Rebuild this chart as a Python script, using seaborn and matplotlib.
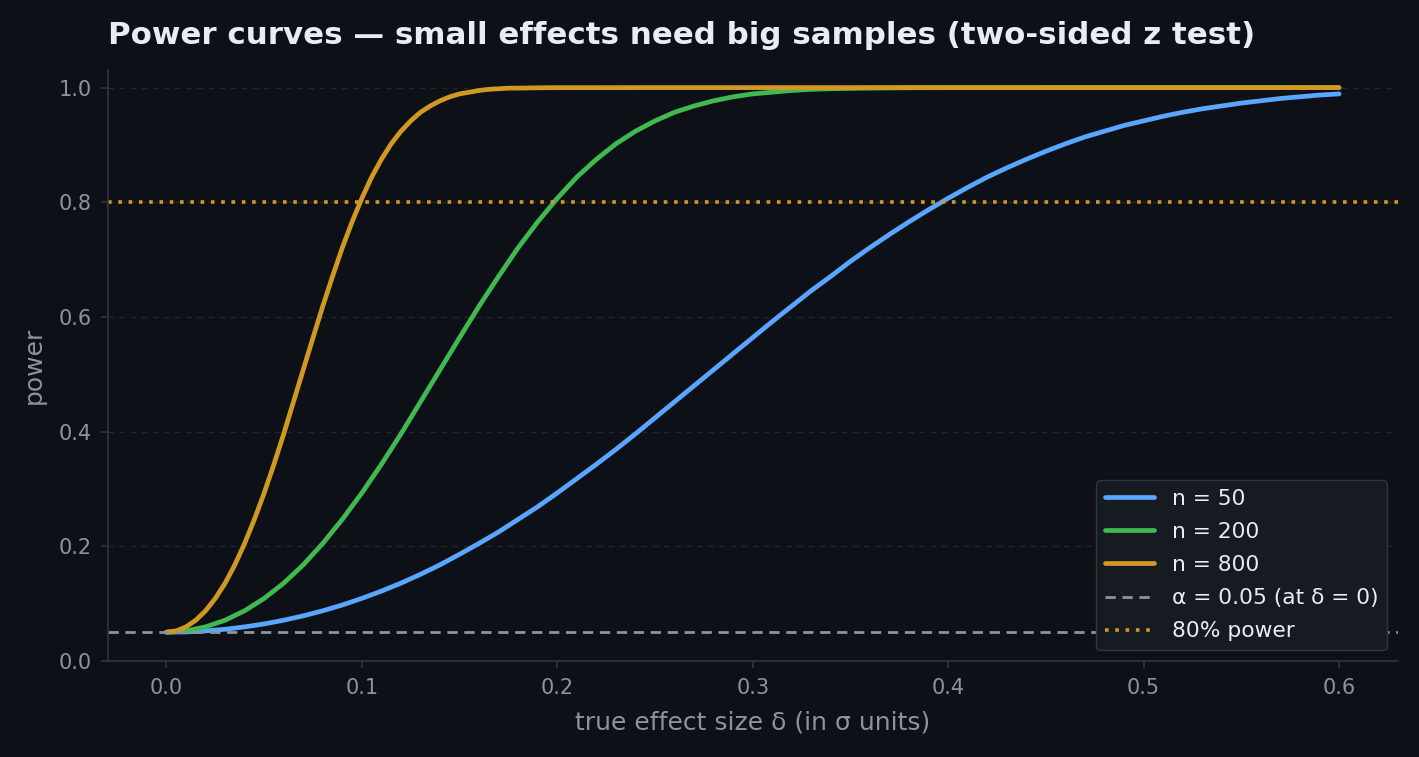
import pandas as pd
import matplotlib.pyplot as plt
import seaborn as sns

# values
delta_50 = [0.00, 0.01, 0.02, 0.03, 0.04, 0.05, 0.06, 0.07, 0.08, 0.09,
            0.10, 0.11, 0.12, 0.13, 0.14, 0.15, 0.16, 0.17, 0.18, 0.19,
            0.20, 0.21, 0.22, 0.23, 0.24, 0.25, 0.26, 0.27, 0.28, 0.29,
            0.30, 0.31, 0.32, 0.33, 0.34, 0.35, 0.36, 0.37, 0.38, 0.39,
            0.40, 0.41, 0.42, 0.43, 0.44, 0.45, 0.46, 0.47, 0.48, 0.49,
            0.50, 0.51, 0.52, 0.53, 0.54, 0.55, 0.56, 0.57, 0.58, 0.59, 0.60]
power_50 = [0.050, 0.0505, 0.0523, 0.0551, 0.0593, 0.0644, 0.0709, 0.0785, 0.0874, 0.0975,
            0.109, 0.1217, 0.1356, 0.151, 0.1676, 0.186, 0.205, 0.225, 0.247, 0.269,
            0.293, 0.318, 0.343, 0.369, 0.396, 0.424, 0.452, 0.480, 0.508, 0.536,
            0.564, 0.592, 0.619, 0.646, 0.671, 0.697, 0.721, 0.744, 0.766, 0.787,
            0.807, 0.826, 0.844, 0.860, 0.875, 0.889, 0.902, 0.914, 0.924, 0.934,
            0.942, 0.950, 0.957, 0.963, 0.968, 0.973, 0.977, 0.981, 0.984, 0.987, 0.989]

delta_200 = [0.00, 0.01, 0.02, 0.03, 0.04, 0.05, 0.06, 0.07, 0.08, 0.09,
             0.10, 0.11, 0.12, 0.13, 0.14, 0.15, 0.16, 0.17, 0.18, 0.19,
             0.20, 0.21, 0.22, 0.23, 0.24, 0.25, 0.26, 0.27, 0.28, 0.29,
             0.30, 0.31, 0.32, 0.33, 0.34, 0.35, 0.36, 0.38, 0.40, 0.45,
             0.50, 0.55, 0.60]
power_200 = [0.050, 0.0523, 0.0593, 0.0709, 0.0874, 0.109, 0.1356, 0.1676, 0.205, 0.247,
             0.293, 0.343, 0.396, 0.452, 0.508, 0.564, 0.619, 0.671, 0.721, 0.766,
             0.807, 0.844, 0.875, 0.902, 0.924, 0.942, 0.957, 0.968, 0.977, 0.984,
             0.989, 0.992, 0.995, 0.997, 0.998, 0.9986, 0.9991, 0.9997, 0.9999, 1.0,
             1.0, 1.0, 1.0]

delta_800 = [0.000, 0.005, 0.010, 0.015, 0.020, 0.025, 0.030, 0.035, 0.040, 0.045,
             0.050, 0.055, 0.060, 0.065, 0.070, 0.075, 0.080, 0.085, 0.090, 0.095,
             0.100, 0.105, 0.110, 0.115, 0.120, 0.125, 0.130, 0.135, 0.140, 0.145,
             0.150, 0.155, 0.160, 0.165, 0.170, 0.175, 0.180, 0.190, 0.200, 0.250,
             0.300, 0.400, 0.500, 0.600]
power_800 = [0.050, 0.0523, 0.0593, 0.0709, 0.0874, 0.109, 0.1356, 0.1676, 0.205, 0.247,
             0.293, 0.343, 0.396, 0.452, 0.508, 0.564, 0.619, 0.671, 0.721, 0.766,
             0.807, 0.844, 0.875, 0.902, 0.924, 0.942, 0.957, 0.968, 0.977, 0.984,
             0.989, 0.992, 0.995, 0.997, 0.998, 0.999, 0.9991, 0.9997, 0.9999, 1.0,
             1.0, 1.0, 1.0, 1.0]

series_labels = ["n = 50", "n = 200", "n = 800"]
series_colors = ["#58a6ff", "#3fb950", "#d29922"]
alpha_level = 0.05
target_power = 0.8

bg = "#0d1117"
muted = "#8b949e"
edge = "#30363d"

df = pd.concat([
    pd.DataFrame({"delta": delta_50, "power": power_50, "series": series_labels[0]}),
    pd.DataFrame({"delta": delta_200, "power": power_200, "series": series_labels[1]}),
    pd.DataFrame({"delta": delta_800, "power": power_800, "series": series_labels[2]}),
], ignore_index=True)

sns.set_theme(style="dark")
plt.rcParams["font.family"] = ["DejaVu Sans"]

fig, ax = plt.subplots(figsize=(14.19, 7.57), dpi=100)
fig.patch.set_facecolor(bg)
ax.set_facecolor(bg)

sns.lineplot(data=df, x="delta", y="power", hue="series", hue_order=series_labels,
             palette=dict(zip(series_labels, series_colors)), linewidth=3.4,
             sort=False, ax=ax)

ax.axhline(alpha_level, color=muted, linestyle=(0, (3.7, 2.4)), linewidth=2,
           label="α = 0.05 (at δ = 0)")
ax.axhline(target_power, color="#d29922", linestyle=(0, (1, 1.85)), linewidth=2.6,
           label="80% power")

ax.set_ylim(0, 1.03)
ax.grid(axis="y", color="#21262d", linestyle=(0, (4, 4)), linewidth=1)
ax.grid(axis="x", visible=False)

for side in ["top", "right"]:
    ax.spines[side].set_visible(False)
for side in ["left", "bottom"]:
    ax.spines[side].set_color(edge)
    ax.spines[side].set_linewidth(1.2)

ax.tick_params(colors=muted, labelsize=15, length=5, width=1.2, color=edge,
               bottom=True, left=True)
ax.tick_params(axis="x", pad=7)
ax.tick_params(axis="y", pad=6.5)
ax.set_xlabel("true effect size δ (in σ units)", color=muted, fontsize=18, labelpad=9)
ax.set_ylabel("power", color=muted, fontsize=18, labelpad=9)
ax.set_title("Power curves — small effects need big samples (two-sided z test)",
             loc="left", color="#e6edf3", fontsize=22.2, fontweight="bold", pad=19)

leg = ax.legend(loc="lower right", fontsize=15.7, facecolor="#161b22",
                edgecolor=edge, framealpha=1, handlelength=2.25, labelspacing=0.6)
for t in leg.get_texts():
    t.set_color("#e6edf3")

fig.subplots_adjust(left=0.076, right=0.985, top=0.907, bottom=0.127)
fig.savefig("out.png", dpi=100, facecolor=bg)
